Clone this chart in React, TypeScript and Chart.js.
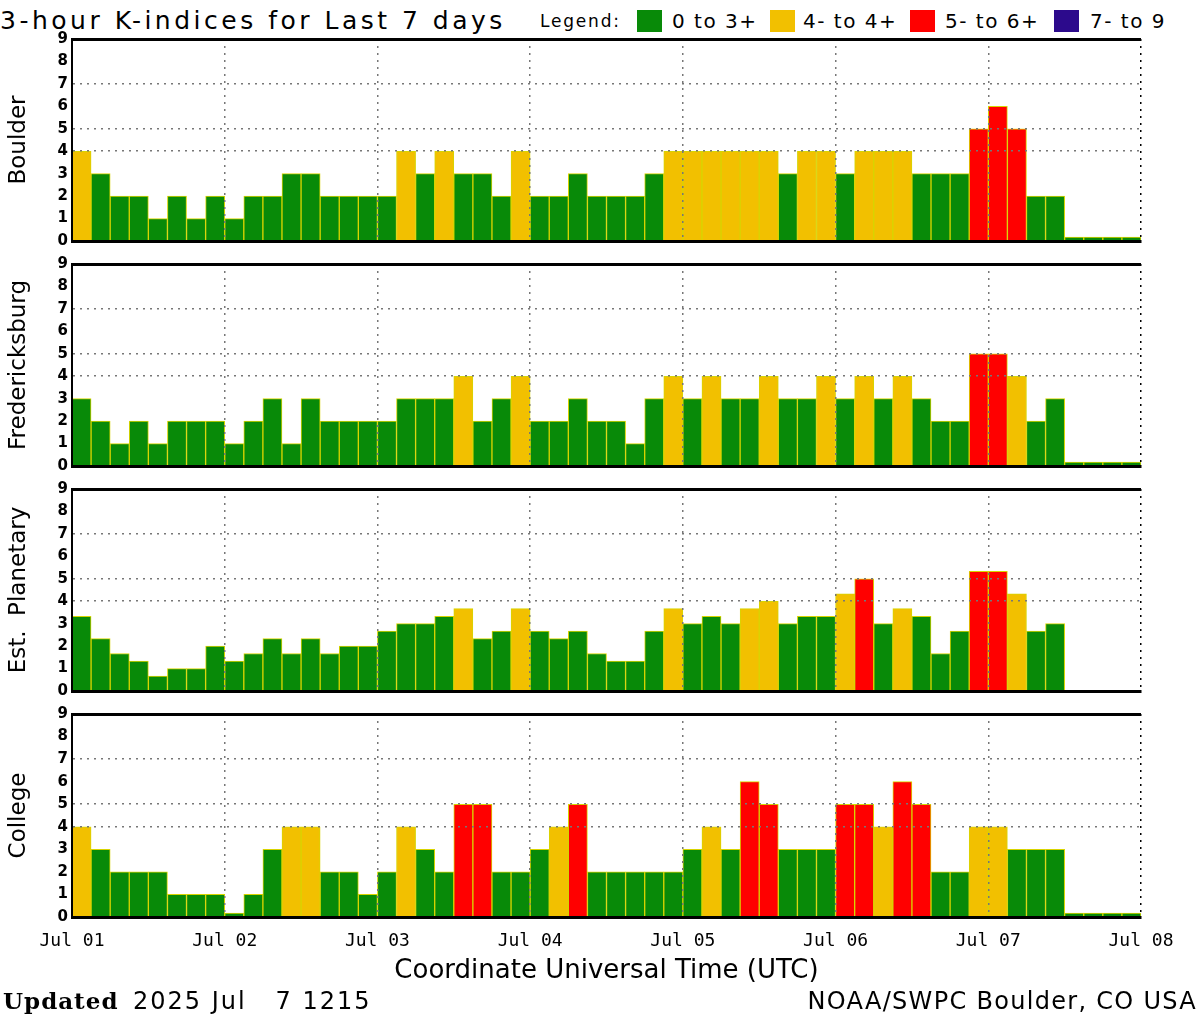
import React, { useEffect, useRef } from "react";
import { Chart, registerables } from "chart.js";

Chart.register(...registerables);

// ---- data ----
const DAY_LABELS = ["Jul 01", "Jul 02", "Jul 03", "Jul 04", "Jul 05", "Jul 06", "Jul 07", "Jul 08"];
const STATIONS = ["Boulder", "Fredericksburg", "Est.  Planetary", "College"];

const BOULDER = [
  4, 3, 2, 2, 1, 2, 1, 2,
  1, 2, 2, 3, 3, 2, 2, 2,
  2, 4, 3, 4, 3, 3, 2, 4,
  2, 2, 3, 2, 2, 2, 3, 4,
  4, 4, 4, 4, 4, 3, 4, 4,
  3, 4, 4, 4, 3, 3, 3, 5,
  6, 5, 2, 2, 0, 0, 0, 0,
];
const FREDERICKSBURG = [
  3, 2, 1, 2, 1, 2, 2, 2,
  1, 2, 3, 1, 3, 2, 2, 2,
  2, 3, 3, 3, 4, 2, 3, 4,
  2, 2, 3, 2, 2, 1, 3, 4,
  3, 4, 3, 3, 4, 3, 3, 4,
  3, 4, 3, 4, 3, 2, 2, 5,
  5, 4, 2, 3, 0, 0, 0, 0,
];
const PLANETARY: (number | null)[] = [
  3.33, 2.33, 1.67, 1.33, 0.67, 1, 1, 2,
  1.33, 1.67, 2.33, 1.67, 2.33, 1.67, 2, 2,
  2.67, 3, 3, 3.33, 3.67, 2.33, 2.67, 3.67,
  2.67, 2.33, 2.67, 1.67, 1.33, 1.33, 2.67, 3.67,
  3, 3.33, 3, 3.67, 4, 3, 3.33, 3.33,
  4.33, 5, 3, 3.67, 3.33, 1.67, 2.67, 5.33,
  5.33, 4.33, 2.67, 3, null, null, null, null,
];
const COLLEGE = [
  4, 3, 2, 2, 2, 1, 1, 1,
  0, 1, 3, 4, 4, 2, 2, 1,
  2, 4, 3, 2, 5, 5, 2, 2,
  3, 4, 5, 2, 2, 2, 2, 2,
  3, 4, 3, 6, 5, 3, 3, 3,
  5, 5, 4, 6, 5, 2, 2, 4,
  4, 3, 3, 3, 0, 0, 0, 0,
];
const SERIES = [BOULDER, FREDERICKSBURG, PLANETARY, COLLEGE];
const LEGEND_LABELS = ["0 to 3+", "4- to 4+", "5- to 6+", "7- to 9"];
const Y_GRID_VALUES = [4, 5, 7];
const Y_MAX = 9;

// ---- style ----
const FONT = '"DejaVu Sans", sans-serif';
const MONO = '"DejaVu Sans Mono", monospace';
const GREEN = "#088a08";
const YELLOW = "#f2c000";
const RED = "#ff0000";
const PURPLE = "#2c0a8c";
const LEGEND_COLORS = [GREEN, YELLOW, RED, PURPLE];
const LEGEND_BOX_X = [637, 770, 910, 1054];
const LEGEND_TEXT_X = [672, 803, 945, 1090];
const BAR_BORDER = "#d8d400";

const PANEL_TOP0 = 38;
const PANEL_STEP = 225;
const PLOT_H = 204;
const PLOT_LEFT = 72;
const PLOT_RIGHT = 1141;
const PAD_TOP = 12;
const X_H_SMALL = 12;
const X_H_BOTTOM = 84;

function colorFor(v: number | null) {
  if (v === null) return GREEN;
  if (v < 3.5) return GREEN;
  if (v < 4.5) return YELLOW;
  if (v < 6.5) return RED;
  return PURPLE;
}

function makeConfig(values: (number | null)[], label: string, isBottom: boolean): any {
  const nBars = values.length;
  return {
    type: "bar",
    data: {
      datasets: [
        {
          data: values.map((v, i) => ({ x: i + 0.5, y: v })),
          backgroundColor: values.map(colorFor),
          borderColor: BAR_BORDER,
          borderWidth: 1,
          borderSkipped: "start",
          barPercentage: 1,
          categoryPercentage: 1,
          minBarLength: 4,
        },
      ],
    },
    options: {
      responsive: false,
      animation: false,
      devicePixelRatio: 1,
      layout: { autoPadding: false, padding: { left: 0, right: 1200 - PLOT_RIGHT, top: PAD_TOP, bottom: 0 } },
      plugins: { legend: { display: false }, tooltip: { enabled: false }, title: { display: false } },
      scales: {
        x: {
          type: "linear",
          position: "bottom",
          min: 0,
          max: nBars,
          offset: false,
          ticks: {
            stepSize: 8,
            display: isBottom,
            autoSkip: false,
            maxRotation: 0,
            padding: 14,
            color: "#000",
            font: { family: MONO, size: 18 },
            callback: (v: number) => DAY_LABELS[Math.round(v / 8)] ?? "",
          },
          grid: {
            offset: false,
            drawTicks: false,
            z: 1,
            lineWidth: 1.5,
            color: (ctx: any) =>
              ctx.tick && ctx.tick.value === 0
                ? "rgba(0,0,0,0)"
                : ctx.tick && ctx.tick.value === nBars
                ? "#000"
                : "#777",
          },
          border: { display: true, color: "#000", width: 3, dash: [2, 5], z: 1 },
          title: {
            display: isBottom,
            text: "Coordinate Universal Time (UTC)",
            color: "#000",
            font: { family: FONT, size: 26 },
            padding: { top: 0, bottom: 14 },
          },
          afterFit: (s: any) => {
            s.height = isBottom ? X_H_BOTTOM : X_H_SMALL;
          },
        },
        y: {
          min: 0,
          max: Y_MAX,
          ticks: {
            stepSize: 1,
            padding: 4,
            color: "#000",
            font: { family: FONT, size: 15, weight: "bold" },
          },
          grid: {
            drawTicks: false,
            z: 1,
            lineWidth: (ctx: any) => (ctx.tick && ctx.tick.value === Y_MAX ? 3 : 1.5),
            color: (ctx: any) =>
              ctx.tick && ctx.tick.value === Y_MAX
                ? "#000"
                : ctx.tick && Y_GRID_VALUES.includes(ctx.tick.value)
                ? "#777"
                : "rgba(0,0,0,0)",
          },
          border: {
            display: true,
            color: "#000",
            width: 2,
            z: 1,
            dash: (ctx: any) => (ctx.tick && ctx.tick.value === Y_MAX ? [] : [2, 5]),
          },
          title: {
            display: true,
            text: label,
            color: "#000",
            font: { family: FONT, size: 23 },
            padding: { top: 5, bottom: 0 },
          },
          afterFit: (s: any) => {
            s.width = PLOT_LEFT;
          },
        },
      },
    },
  };
}

export default function App() {
  const refs = [
    useRef<HTMLCanvasElement>(null),
    useRef<HTMLCanvasElement>(null),
    useRef<HTMLCanvasElement>(null),
    useRef<HTMLCanvasElement>(null),
  ];

  useEffect(() => {
    const charts: Chart[] = [];
    SERIES.forEach((values, k) => {
      const c = refs[k].current;
      if (!c) return;
      charts.push(new Chart(c, makeConfig(values, STATIONS[k], k === SERIES.length - 1)));
    });
    return () => charts.forEach((ch) => ch.destroy());
  }, []);

  const textStyle: React.CSSProperties = {
    position: "absolute",
    fontFamily: FONT,
    color: "#000",
    whiteSpace: "pre",
    lineHeight: 1,
  };

  return (
    <div style={{ position: "absolute", left: 0, top: 0, width: 1200, height: 1020, background: "#fff", overflow: "hidden" }}>
      <div style={{ ...textStyle, left: 0, top: 8, fontSize: 25, letterSpacing: 3.5 }}>3-hour K-indices for Last 7 days</div>
      <div style={{ ...textStyle, left: 540, top: 13, fontSize: 17, letterSpacing: 1.8 }}>Legend:</div>
      {LEGEND_LABELS.map((l, i) => (
        <React.Fragment key={l}>
          <div style={{ position: "absolute", left: LEGEND_BOX_X[i], top: 10, width: 25, height: 22, background: LEGEND_COLORS[i] }} />
          <div style={{ ...textStyle, left: LEGEND_TEXT_X[i], top: 11, fontSize: 20, letterSpacing: 1.5 }}>{l}</div>
        </React.Fragment>
      ))}
      {SERIES.map((values, k) => {
        const isBottom = k === SERIES.length - 1;
        const h = PAD_TOP + PLOT_H + (isBottom ? X_H_BOTTOM : X_H_SMALL);
        return (
          <canvas
            key={k}
            ref={refs[k]}
            width={1200}
            height={h}
            style={{ position: "absolute", left: 0, top: PANEL_TOP0 + PANEL_STEP * k - PAD_TOP, width: 1200, height: h }}
          />
        );
      })}
      <div style={{ ...textStyle, left: 3, top: 989, fontSize: 23, letterSpacing: 1, fontFamily: '"DejaVu Serif", serif', fontWeight: "bold" }}>Updated</div>
      <div style={{ ...textStyle, left: 133, top: 989, fontSize: 24, letterSpacing: 2 }}>{"2025 Jul   7 1215"}</div>
      <div style={{ ...textStyle, right: 3, top: 989, fontSize: 24, letterSpacing: 1.3 }}>NOAA/SWPC Boulder, CO USA</div>
    </div>
  );
}
